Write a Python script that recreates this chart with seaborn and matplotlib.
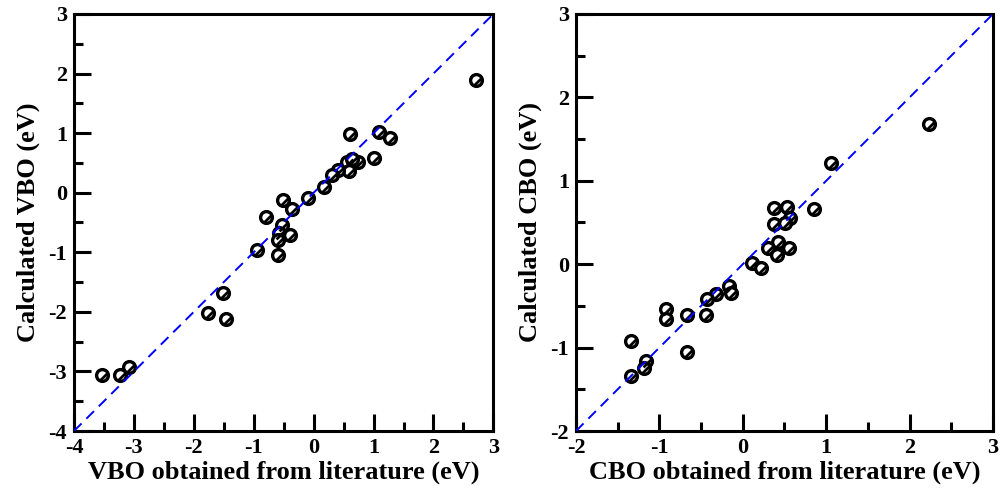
import numpy as np
import matplotlib
matplotlib.use("Agg")
import matplotlib.pyplot as plt
from matplotlib.path import Path
import seaborn as sns
import pandas as pd

# Valence band offsets: literature vs calculated (eV)
vbo_lit = [2.71, 0.60, 1.09, 1.27, 1.01, 0.74, 0.55, 0.64, 0.59, 0.41, 0.31, 0.18,
           -0.09, -0.51, -0.36, -0.79, -0.53, -0.57, -0.40, -0.60, -0.94, -0.60,
           -1.52, -1.76, -1.47, -3.08, -3.23, -3.53]
vbo_calc = [1.90, 0.99, 1.02, 0.91, 0.58, 0.52, 0.52, 0.56, 0.36, 0.38, 0.30, 0.09,
            -0.09, -0.13, -0.28, -0.41, -0.54, -0.67, -0.71, -0.79, -0.96, -1.04,
            -1.68, -2.02, -2.12, -2.93, -3.06, -3.06]

# Conduction band offsets: literature vs calculated (eV)
cbo_lit = [2.23, 1.06, 0.85, 0.38, 0.53, 0.57, 0.38, 0.51, 0.42, 0.55, 0.30, 0.41,
           0.11, 0.22, -0.16, -0.14, -0.32, -0.43, -0.44, -0.67, -0.92, -0.92,
           -1.34, -0.67, -1.16, -1.18, -1.34]
cbo_calc = [1.68, 1.21, 0.66, 0.67, 0.69, 0.55, 0.48, 0.49, 0.27, 0.19, 0.19, 0.11,
            0.02, -0.04, -0.26, -0.34, -0.36, -0.42, -0.61, -0.61, -0.54, -0.66,
            -0.92, -1.05, -1.16, -1.25, -1.34]

vbo_ticks = [-4, -3, -2, -1, 0, 1, 2, 3]
cbo_ticks = [-2, -1, 0, 1, 2, 3]

sns.set_theme(style="white")
plt.rcParams["font.family"] = ["Liberation Serif", "DejaVu Serif"]
plt.rcParams["font.weight"] = "bold"
plt.rcParams["text.color"] = "black"
plt.rcParams["axes.labelcolor"] = "black"
plt.rcParams["xtick.color"] = "black"
plt.rcParams["ytick.color"] = "black"

fig = plt.figure(figsize=(10.01, 4.94), dpi=100)
ax1 = fig.add_axes([0.0739, 0.1275, 0.419, 0.8442])
ax2 = fig.add_axes([0.5754, 0.1275, 0.4166, 0.8442])

# slash drawn inside each circle marker
slash = Path([(-0.3, -0.6), (0.6, 0.3)], [Path.MOVETO, Path.LINETO])


def panel(ax, x, y, ticks, xlabel, ylabel):
    df = pd.DataFrame({"lit": x, "calc": y})
    lo, hi = ticks[0], ticks[-1]
    sns.scatterplot(data=df, x="lit", y="calc", ax=ax, marker="o", s=72,
                    facecolor="white", edgecolor="black", linewidth=2.4,
                    zorder=3, legend=False)
    sns.scatterplot(data=df, x="lit", y="calc", ax=ax, marker=slash, s=72,
                    color="black", edgecolor="black", linewidth=2.0,
                    zorder=4, legend=False)
    ax.plot([lo, hi], [lo, hi], color="#0000ff", lw=1.4, ls=(0, (5.5, 3.5)),
            zorder=5)
    ax.set_xlim(lo, hi)
    ax.set_ylim(lo, hi)
    ax.set_xticks(ticks)
    ax.set_yticks(ticks)
    ax.set_xticks(np.arange(lo + 0.5, hi, 1.0), minor=True)
    ax.set_yticks(np.arange(lo + 0.5, hi, 1.0), minor=True)
    ax.set_xticklabels([str(t) for t in ticks])
    ax.set_yticklabels([str(t) for t in ticks])
    ax.tick_params(which="both", direction="in", top=False, right=False,
                   bottom=True, left=True, width=2.2, colors="black",
                   labelcolor="black", labelsize=16, pad=5)
    ax.tick_params(which="major", length=12)
    ax.tick_params(which="minor", length=6.5)
    for lab in ax.get_xticklabels() + ax.get_yticklabels():
        lab.set_fontweight("bold")
    for sp in ax.spines.values():
        sp.set_visible(True)
        sp.set_color("black")
        sp.set_linewidth(2.2)
    ax.set_xlabel(xlabel, fontsize=19, fontweight="bold", color="black",
                  labelpad=2)
    ax.set_ylabel(ylabel, fontsize=19, fontweight="bold", color="black",
                  labelpad=6)


panel(ax1, vbo_lit, vbo_calc, vbo_ticks,
      "VBO obtained from literature (eV)", "Calculated VBO (eV)")
panel(ax2, cbo_lit, cbo_calc, cbo_ticks,
      "CBO obtained from literature (eV)", "Calculated CBO (eV)")

fig.savefig("out.png", dpi=100)
